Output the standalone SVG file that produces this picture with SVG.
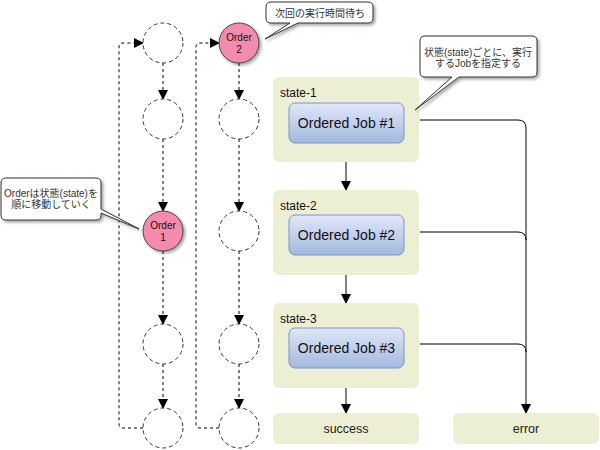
<svg xmlns="http://www.w3.org/2000/svg" width="600" height="450" viewBox="0 0 600 450">
<defs>
<style>
.t{font-family:"Liberation Sans","Noto Sans CJK JP",sans-serif;fill:#111}
.c{font-family:"Liberation Sans","Noto Sans CJK JP",sans-serif;fill:#333;font-size:10px}
.e{font-family:"Liberation Sans",sans-serif;fill:#222;font-size:12.5px}
.slot{fill:#fff;stroke:#333;stroke-width:1;stroke-dasharray:4,3}
.order{fill:#f48aac;stroke:#444;stroke-width:1;filter:url(#sh)}
.dl{fill:none;stroke:#000;stroke-width:1;stroke-dasharray:3,3}
.sl{fill:none;stroke:#000;stroke-width:1}
.state{fill:#edefd4}
.job{fill:url(#jg);stroke:#7a93c8;stroke-width:1}
.callout{fill:#fff;stroke:#333;stroke-width:1;filter:url(#sh)}
</style>
<linearGradient id="jg" x1="0" y1="0" x2="0" y2="1">
<stop offset="0" stop-color="#e0e8f7"/>
<stop offset="1" stop-color="#a3b8df"/>
</linearGradient>
<filter id="sh" x="-20%" y="-20%" width="150%" height="150%">
<feGaussianBlur in="SourceAlpha" stdDeviation="1.5"/>
<feOffset dx="2" dy="2" result="b"/>
<feComponentTransfer><feFuncA type="linear" slope="0.35"/></feComponentTransfer>
<feMerge><feMergeNode/><feMergeNode in="SourceGraphic"/></feMerge>
</filter>
<marker id="ah" markerWidth="10" markerHeight="10" refX="9" refY="5" orient="auto" markerUnits="userSpaceOnUse">
<path d="M0,0 L10,5 L0,10 Z" fill="#000"/>
</marker>
</defs>
<rect width="600" height="450" fill="#fff"/>

<g id="connectors">
<path class="dl" d="M163,63 V99" marker-end="url(#ah)"/>
<path class="dl" d="M163,139 V211" marker-end="url(#ah)"/>
<path class="dl" d="M163,251 V324" marker-end="url(#ah)"/>
<path class="dl" d="M163,364 V408" marker-end="url(#ah)"/>
<path class="dl" d="M143,428 H123 Q119,428 119,424 V47 Q119,43 123,43 H143" marker-end="url(#ah)"/>
<path class="dl" d="M239,63 V99" marker-end="url(#ah)"/>
<path class="dl" d="M239,139 V211" marker-end="url(#ah)"/>
<path class="dl" d="M239,251 V324" marker-end="url(#ah)"/>
<path class="dl" d="M239,364 V408" marker-end="url(#ah)"/>
<path class="dl" d="M219,428 H200 Q196,428 196,424 V47 Q196,43 200,43 H219" marker-end="url(#ah)"/>
<path class="sl" d="M346,162 V190" marker-end="url(#ah)"/>
<path class="sl" d="M346,275 V303" marker-end="url(#ah)"/>
<path class="sl" d="M346,388 V413" marker-end="url(#ah)"/>
<path class="sl" d="M420,120 H518 Q526,120 526,128 V413" marker-end="url(#ah)"/>
<path class="sl" d="M420,232 H518 Q526,232 526,240"/>
<path class="sl" d="M420,344 H518 Q526,344 526,352"/>
</g>

<g id="slot-1-1"><circle class="slot" cx="163" cy="43" r="20"/></g>
<g id="slot-1-2"><circle class="slot" cx="163" cy="119" r="20"/></g>
<g id="order-1"><circle class="order" cx="163" cy="231" r="20"/>
<text class="t" x="163" y="229" font-size="10" text-anchor="middle">Order</text>
<text class="t" x="163" y="241" font-size="10" text-anchor="middle">1</text></g>
<g id="slot-1-4"><circle class="slot" cx="163" cy="344" r="20"/></g>
<g id="slot-1-5"><circle class="slot" cx="163" cy="428" r="20"/></g>

<g id="order-2"><circle class="order" cx="239" cy="43" r="20"/>
<text class="t" x="239" y="41" font-size="10" text-anchor="middle">Order</text>
<text class="t" x="239" y="53" font-size="10" text-anchor="middle">2</text></g>
<g id="slot-2-2"><circle class="slot" cx="239" cy="119" r="20"/></g>
<g id="slot-2-3"><circle class="slot" cx="239" cy="231" r="20"/></g>
<g id="slot-2-4"><circle class="slot" cx="239" cy="344" r="20"/></g>
<g id="slot-2-5"><circle class="slot" cx="239" cy="428" r="20"/></g>

<g id="state-1"><rect class="state" x="273" y="77" width="146" height="85" rx="6"/>
<text class="t" x="280" y="97" font-size="12">state-1</text>
<rect class="job" x="289" y="103" width="115" height="40" rx="6"/>
<text class="t" x="346.5" y="128" font-size="14" text-anchor="middle">Ordered Job #1</text></g>

<g id="state-2"><rect class="state" x="273" y="190" width="146" height="85" rx="6"/>
<text class="t" x="280" y="210" font-size="12">state-2</text>
<rect class="job" x="289" y="215" width="115" height="40" rx="6"/>
<text class="t" x="346.5" y="240" font-size="14" text-anchor="middle">Ordered Job #2</text></g>

<g id="state-3"><rect class="state" x="273" y="303" width="146" height="85" rx="6"/>
<text class="t" x="280" y="323" font-size="12">state-3</text>
<rect class="job" x="289" y="328" width="115" height="40" rx="6"/>
<text class="t" x="346.5" y="353" font-size="14" text-anchor="middle">Ordered Job #3</text></g>

<g id="success"><rect class="state" x="273" y="413" width="146" height="31" rx="6"/>
<text class="e" x="346" y="433" text-anchor="middle">success</text></g>

<g id="error"><rect class="state" x="453" y="413" width="146" height="31" rx="6"/>
<text class="e" x="526" y="433" text-anchor="middle">error</text></g>

<g id="callout-wait"><path class="callout" d="M271,2 H368 Q373,2 373,7 V18 Q373,23 368,23 H298 L265,39 L290,23 H271 Q266,23 266,18 V7 Q266,2 271,2 Z"/>
<text class="c" x="320" y="17" text-anchor="middle">次回の実行時間待ち</text></g>

<g id="callout-state"><path class="callout" d="M425,36 H532 Q537,36 537,41 V72 Q537,77 532,77 H459 L415,110 L452,77 H425 Q420,77 420,72 V41 Q420,36 425,36 Z"/>
<text class="c" x="478" y="56" text-anchor="middle">状態(state)ごとに、実行</text>
<text class="c" x="478" y="67" text-anchor="middle">するJobを指定する</text></g>

<g id="callout-order"><path class="callout" d="M6,178 H96 Q101,178 101,183 V209 L139,229 L101,213 V215 Q101,220 96,220 H6 Q1,220 1,215 V183 Q1,178 6,178 Z"/>
<text class="c" x="51" y="197" text-anchor="middle">Orderは状態(state)を</text>
<text class="c" x="51" y="208" text-anchor="middle">順に移動していく</text></g>
</svg>
